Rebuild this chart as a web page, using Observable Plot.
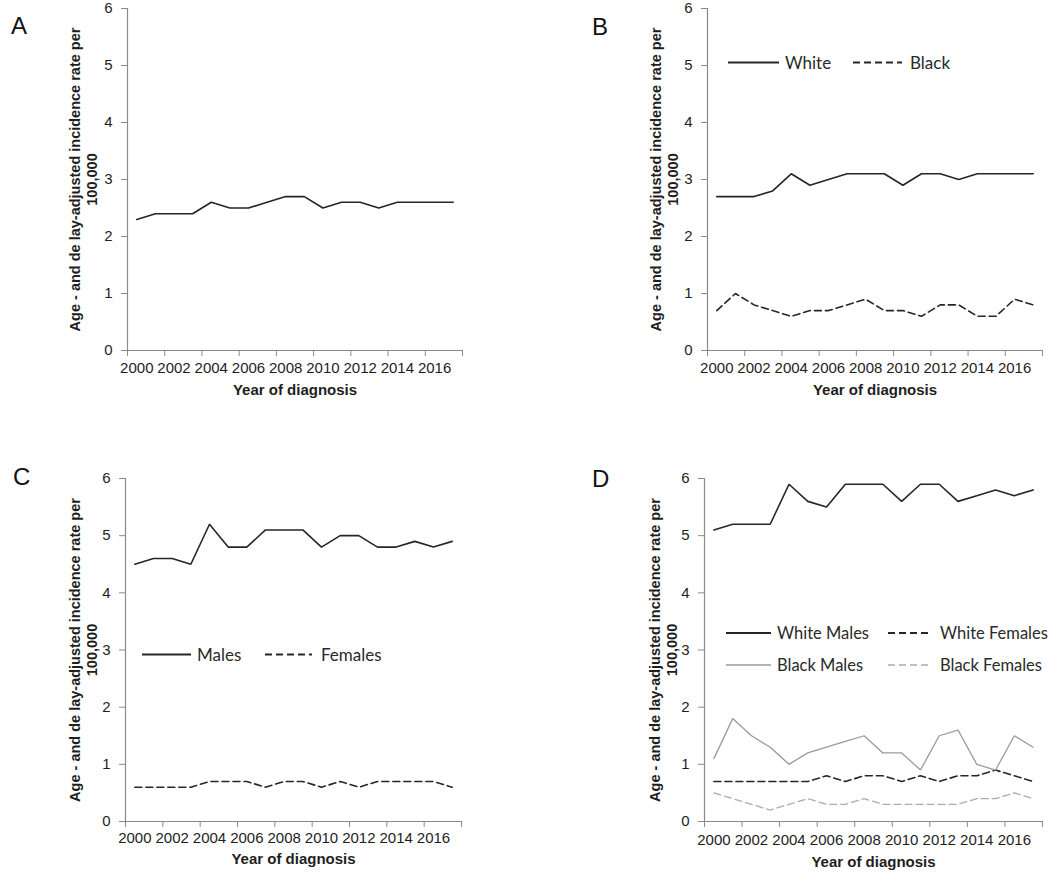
<!DOCTYPE html>
<html>
<head>
<meta charset="utf-8">
<script src="https://cdn.jsdelivr.net/npm/d3@7"></script>
<script src="https://cdn.jsdelivr.net/npm/@observablehq/plot@0.6"></script>
<style>
  body { margin: 0; background: #fff; }
  #root { position: relative; width: 1050px; height: 880px; font-family: "Liberation Sans", Arial, sans-serif; overflow: hidden; }
  .panel { position: absolute; }
  .letter { position: absolute; font-size: 24px; line-height: 24px; color: #111; }
  .legend-item { position: absolute; display: flex; align-items: center; transform: translateY(-50%);
    font-family: Lato, "Liberation Sans", sans-serif; font-size: 16px; color: #2a2a2a; white-space: nowrap; }
  .legend-item svg { display: block; }
</style>
</head>
<body>
<div id="root"></div>
<script>
// ---------- data ----------
const years = [2000, 2001, 2002, 2003, 2004, 2005, 2006, 2007, 2008, 2009, 2010, 2011, 2012, 2013, 2014, 2015, 2016, 2017];

// Panel A: all
const overall      = [2.3, 2.4, 2.4, 2.4, 2.6, 2.5, 2.5, 2.6, 2.7, 2.7, 2.5, 2.6, 2.6, 2.5, 2.6, 2.6, 2.6, 2.6];
// Panel B: race
const white        = [2.7, 2.7, 2.7, 2.8, 3.1, 2.9, 3.0, 3.1, 3.1, 3.1, 2.9, 3.1, 3.1, 3.0, 3.1, 3.1, 3.1, 3.1];
const black        = [0.7, 1.0, 0.8, 0.7, 0.6, 0.7, 0.7, 0.8, 0.9, 0.7, 0.7, 0.6, 0.8, 0.8, 0.6, 0.6, 0.9, 0.8];
// Panel C: sex
const males        = [4.5, 4.6, 4.6, 4.5, 5.2, 4.8, 4.8, 5.1, 5.1, 5.1, 4.8, 5.0, 5.0, 4.8, 4.8, 4.9, 4.8, 4.9];
const females      = [0.6, 0.6, 0.6, 0.6, 0.7, 0.7, 0.7, 0.6, 0.7, 0.7, 0.6, 0.7, 0.6, 0.7, 0.7, 0.7, 0.7, 0.6];
// Panel D: race x sex
const whiteMales   = [5.1, 5.2, 5.2, 5.2, 5.9, 5.6, 5.5, 5.9, 5.9, 5.9, 5.6, 5.9, 5.9, 5.6, 5.7, 5.8, 5.7, 5.8];
const whiteFemales = [0.7, 0.7, 0.7, 0.7, 0.7, 0.7, 0.8, 0.7, 0.8, 0.8, 0.7, 0.8, 0.7, 0.8, 0.8, 0.9, 0.8, 0.7];
const blackMales   = [1.1, 1.8, 1.5, 1.3, 1.0, 1.2, 1.3, 1.4, 1.5, 1.2, 1.2, 0.9, 1.5, 1.6, 1.0, 0.9, 1.5, 1.3];
const blackFemales = [0.5, 0.4, 0.3, 0.2, 0.3, 0.4, 0.3, 0.3, 0.4, 0.3, 0.3, 0.3, 0.3, 0.3, 0.4, 0.4, 0.5, 0.4];

// ticks & labels
const yTicks       = [0, 1, 2, 3, 4, 5, 6];
const xLabelTicks  = [2000, 2002, 2004, 2006, 2008, 2010, 2012, 2014, 2016];
const xBoundaryTicks = [1999.5, 2001.5, 2003.5, 2005.5, 2007.5, 2009.5, 2011.5, 2013.5, 2015.5, 2017.5];
const xDomain      = [1999.5, 2017.5];
const yDomain      = [0, 6];
const yTitle = "Age - and de lay-adjusted incidence rate per\n100,000";
const xTitle = "Year of diagnosis";
const panelLetters = ["A", "B", "C", "D"];

// ---------- styles ----------
const DARK = "#262626", GRAY = "#9a9a9a", LIGHTGRAY = "#ababab", AXIS = "#8a8a8a", TEXT = "#1e1e1e";
const SOLID = null, DASH = "7,4";

const panels = [
  { letter: panelLetters[0], left: 0, top: 0,
    margins: { marginLeft: 127, marginRight: 63, marginTop: 8, marginBottom: 90 },
    letterPos: [11, 14], yTitleDx: -44, xPad: 12, xTitleDy: 40,
    series: [{ name: "All", values: overall, stroke: DARK, dash: SOLID, width: 1.6 }],
    legend: [] },
  { letter: panelLetters[1], left: 525, top: 0,
    margins: { marginLeft: 182, marginRight: 8, marginTop: 8, marginBottom: 90 },
    letterPos: [592, 15], yTitleDx: -43, xPad: 12, xTitleDy: 40,
    series: [
      { name: "White", values: white, stroke: DARK, dash: SOLID, width: 1.6 },
      { name: "Black", values: black, stroke: DARK, dash: DASH, width: 1.6 }],
    legend: [
      { name: "White", x: 728, y: 62, len: 51, gap: 6, stroke: DARK, dash: SOLID, width: 1.8, size: 17 },
      { name: "Black", x: 853, y: 62, len: 49, gap: 8, stroke: DARK, dash: DASH, width: 1.8, size: 17 }] },
  { letter: panelLetters[2], left: 0, top: 440,
    margins: { marginLeft: 125, marginRight: 64, marginTop: 38, marginBottom: 59 },
    letterPos: [13, 465], yTitleDx: -42, xPad: 11, xTitleDy: 38,
    series: [
      { name: "Males", values: males, stroke: DARK, dash: SOLID, width: 1.6 },
      { name: "Females", values: females, stroke: DARK, dash: DASH, width: 1.6 }],
    legend: [
      { name: "Males", x: 142, y: 654, len: 49, gap: 6, stroke: DARK, dash: SOLID, width: 1.8, size: 17 },
      { name: "Females", x: 265, y: 654, len: 47, gap: 9, stroke: DARK, dash: DASH, width: 1.8, size: 17 }] },
  { letter: panelLetters[3], left: 525, top: 440,
    margins: { marginLeft: 179, marginRight: 8, marginTop: 38, marginBottom: 59 },
    letterPos: [592, 467], yTitleDx: -41, xPad: 13, xTitleDy: 41,
    series: [
      { name: "White Males", values: whiteMales, stroke: DARK, dash: SOLID, width: 1.6 },
      { name: "White Females", values: whiteFemales, stroke: DARK, dash: DASH, width: 1.6 },
      { name: "Black Males", values: blackMales, stroke: GRAY, dash: SOLID, width: 1.3 },
      { name: "Black Females", values: blackFemales, stroke: LIGHTGRAY, dash: DASH, width: 1.3 }],
    legend: [
      { name: "White Males", x: 726, y: 633, len: 45, gap: 6, stroke: DARK, dash: SOLID, width: 1.8, size: 16.5 },
      { name: "White Females", x: 888, y: 633, len: 44, gap: 8, stroke: DARK, dash: DASH, width: 1.8, size: 16.5 },
      { name: "Black Males", x: 726, y: 665, len: 45, gap: 6, stroke: GRAY, dash: SOLID, width: 1.3, size: 16.5 },
      { name: "Black Females", x: 888, y: 665, len: 44, gap: 8, stroke: LIGHTGRAY, dash: DASH, width: 1.3, size: 16.5 }] }
];

const root = document.getElementById("root");

for (const p of panels) {
  const marks = [
    Plot.ruleY([yDomain[0]], { stroke: AXIS, strokeWidth: 1.2 }),
    Plot.ruleX([xDomain[0]], { stroke: AXIS, strokeWidth: 1.2 }),
    Plot.axisY(yTicks, { tickSize: 6, tickPadding: 9, stroke: AXIS, fill: TEXT, fontSize: 15, label: null, tickFormat: d => String(d) }),
    Plot.axisX(xBoundaryTicks, { tickSize: 6, stroke: AXIS, fill: "none", label: null }),
    Plot.axisX(xLabelTicks, { tickSize: 0, tickPadding: p.xPad, fill: TEXT, fontSize: 15, label: null, tickFormat: d => String(d) }),
    Plot.text([yTitle], { text: d => d, frameAnchor: "left", dx: p.yTitleDx, rotate: -90, fontWeight: "bold",
      fontSize: 14.5, lineHeight: 1.17, fill: TEXT, textAnchor: "middle", lineAnchor: "middle" }),
    Plot.text([xTitle], { text: d => d, frameAnchor: "bottom", dy: p.xTitleDy, fontWeight: "bold",
      fontSize: 15, fill: TEXT, textAnchor: "middle", lineAnchor: "middle" })
  ];
  for (const s of p.series) {
    const rows = years.map((year, i) => ({ year, value: s.values[i], name: s.name }));
    marks.push(Plot.line(rows, { x: "year", y: "value", stroke: s.stroke, strokeWidth: s.width,
      strokeDasharray: s.dash || undefined, strokeLinejoin: "miter" }));
  }
  const chart = Plot.plot({
    width: 525, height: 440,
    ...p.margins,
    x: { type: "linear", domain: xDomain },
    y: { type: "linear", domain: yDomain },
    style: { fontFamily: "'Liberation Sans', Arial, sans-serif", fontSize: "15px", background: "transparent", overflow: "visible" },
    marks
  });
  const holder = document.createElement("div");
  holder.className = "panel";
  holder.style.left = p.left + "px";
  holder.style.top = p.top + "px";
  holder.appendChild(chart);
  root.appendChild(holder);

  const letter = document.createElement("div");
  letter.className = "letter";
  letter.textContent = p.letter;
  letter.style.left = p.letterPos[0] + "px";
  letter.style.top = p.letterPos[1] + "px";
  root.appendChild(letter);

  for (const item of p.legend) {
    const div = document.createElement("div");
    div.className = "legend-item";
    div.style.left = item.x + "px";
    div.style.top = item.y + "px";
    div.style.fontSize = item.size + "px";
    const svg = d3.create("svg").attr("width", item.len).attr("height", 6);
    svg.append("line").attr("x1", 0).attr("x2", item.len).attr("y1", 3).attr("y2", 3)
      .attr("stroke", item.stroke).attr("stroke-width", item.width)
      .attr("stroke-dasharray", item.dash || null);
    div.appendChild(svg.node());
    const span = document.createElement("span");
    span.textContent = item.name;
    span.style.marginLeft = item.gap + "px";
    div.appendChild(span);
    root.appendChild(div);
  }
}
</script>
</body>
</html>
